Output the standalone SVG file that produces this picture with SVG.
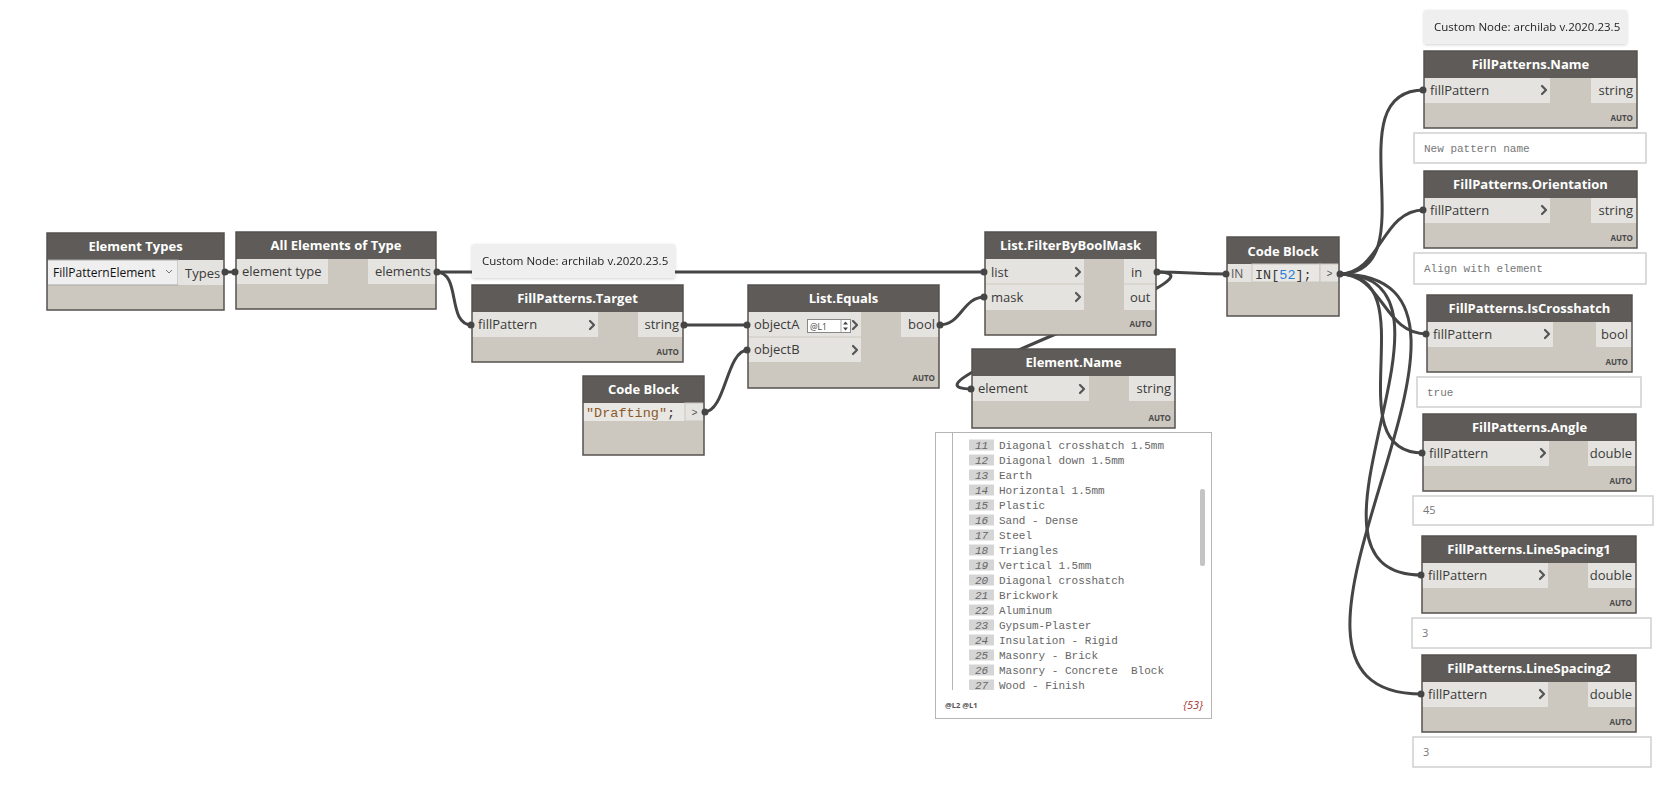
<svg xmlns="http://www.w3.org/2000/svg" width="1666" height="796" viewBox="0 0 1666 796">
<style>
.bg{fill:#ffffff}
.body{fill:#ccc7bf}
.hdr{fill:#5e5b58}
.outline{fill:none;stroke:#55524f;stroke-width:1.5}
.port{fill:#e5e3df}
.title{font-family:"Open Sans","Liberation Sans",sans-serif;font-weight:bold;font-size:13px;fill:#ffffff;text-anchor:middle}
.lbl{font-family:"Open Sans","Liberation Sans",sans-serif;font-size:13px;fill:#3a3a3a}
.lblr{font-family:"Open Sans","Liberation Sans",sans-serif;font-size:13px;fill:#3a3a3a;text-anchor:end}
.auto{font-family:"Open Sans","Liberation Sans",sans-serif;font-weight:bold;font-size:8px;fill:#4a4a4a;text-anchor:end}
.chev{fill:none;stroke:#555;stroke-width:2.2;stroke-linecap:round;stroke-linejoin:round}
.wire{fill:none;stroke:#454545;stroke-width:3}
.pin{fill:#454545}
.code{font-family:"Liberation Mono","DejaVu Sans Mono",monospace;font-size:13.5px;fill:#3a3a3a}
.codeln{fill:#e9e7e3}
.gt{font-family:"Liberation Mono","DejaVu Sans Mono",monospace;font-size:10px;fill:#555;text-anchor:middle}
.tip{fill:#efefef}
.tiptxt{font-family:"Open Sans","Liberation Sans",sans-serif;font-size:11.5px;fill:#222}
.vbox{fill:#ffffff;stroke:#cfcfcf;stroke-width:1.5}
.vmono{font-family:"Liberation Mono","DejaVu Sans Mono",monospace;font-size:11px;fill:#777}
.vsans{font-family:"Open Sans","Liberation Sans",sans-serif;font-size:11px;fill:#777}
.row{font-family:"Liberation Mono","DejaVu Sans Mono",monospace;font-size:11px;fill:#666;white-space:pre}
.idx{fill:#d5d5d5}
.idxt{font-family:"Liberation Mono","DejaVu Sans Mono",monospace;font-size:11px;font-style:italic;fill:#666;text-anchor:middle}
</style>
<defs>
<filter id="sh" x="-10%" y="-30%" width="120%" height="160%">
<feDropShadow dx="0" dy="1" stdDeviation="1.5" flood-color="#000" flood-opacity="0.18"/>
</filter>
<clipPath id="watchclip"><rect x="936" y="433" width="262" height="257"/></clipPath>
</defs>
<rect class="bg" x="0" y="0" width="1666" height="796"/>

<g id="connectors">
<path class="wire" d="M224,272 L236,272"/>
<path class="wire" d="M436,272 L985,272"/>
<path class="wire" d="M436,272 C462,272 446,325 472,325"/>
<path class="wire" d="M683,325 L748,325"/>
<path class="wire" d="M704,412 C726,412 726,350 748,350"/>
<path class="wire" d="M939,325 C962,325 962,297 985,297"/>
<path class="wire" d="M1156,272 C1190,272 1193,274 1227,274"/>
<path class="wire" d="M1156,272 C1248,272 880,389 972,389"/>
<path class="wire" d="M1339,274 C1431,274 1332,90 1424,90"/>
<path class="wire" d="M1339,274 C1381,274 1381,210 1424,210"/>
<path class="wire" d="M1339,274 C1383,274 1383,334 1427,334"/>
<path class="wire" d="M1339,274 C1429,274 1333,453 1423,453"/>
<path class="wire" d="M1339,274 C1489,274 1272,575 1422,575"/>
<path class="wire" d="M1339,274 C1549,274 1212,694 1422,694"/>
</g>

<g id="node-element-types">
<rect class="body" x="47" y="233" width="177" height="77"/>
<rect class="hdr" x="47" y="233" width="177" height="27"/>
<text class="title" x="135.5" y="251">Element Types</text>
<rect x="47.5" y="260" width="130.5" height="25" fill="#efefef" stroke="#a9a9a9"/>
<text x="53" y="277" font-family="Open Sans, Liberation Sans, sans-serif" font-size="12" fill="#111">FillPatternElement</text>
<path d="M166,270 L169,273 L172,270" fill="none" stroke="#777" stroke-width="1"/>
<rect class="port" x="178" y="260" width="46" height="25"/>
<text class="lbl" x="185" y="278">Types</text>
<rect class="outline" x="47" y="233" width="177" height="77"/>
<circle class="pin" cx="225" cy="272" r="3.5"/>
</g>

<g id="node-all-elements">
<rect class="body" x="236" y="232" width="200" height="77"/>
<rect class="hdr" x="236" y="232" width="200" height="27"/>
<text class="title" x="336" y="250">All Elements of Type</text>
<rect class="port" x="236" y="259" width="92" height="25"/>
<text class="lbl" x="242" y="276">element type</text>
<rect class="port" x="368" y="259" width="68" height="25"/>
<text class="lblr" x="431" y="276">elements</text>
<rect class="outline" x="236" y="232" width="200" height="77"/>
<circle class="pin" cx="235" cy="272" r="3.5"/>
<circle class="pin" cx="437" cy="272" r="3.5"/>
</g>

<g id="tooltip-1" filter="url(#sh)">
<rect class="tip" x="472" y="244" width="203" height="34" rx="2"/>
<text class="tiptxt" x="482" y="265">Custom Node: archilab v.2020.23.5</text>
</g>

<g id="node-fp-target">
<rect class="body" x="472" y="285" width="211" height="77"/>
<rect class="hdr" x="472" y="285" width="211" height="27"/>
<text class="title" x="577.5" y="303">FillPatterns.Target</text>
<rect class="port" x="472" y="312" width="126" height="25"/>
<text class="lbl" x="478" y="329">fillPattern</text>
<path class="chev" d="M590,321 L594,325 L590,329"/>
<rect class="port" x="638" y="312" width="45" height="25"/>
<text class="lblr" x="679" y="329">string</text>
<text class="auto" x="679" y="355">AUTO</text>
<rect class="outline" x="472" y="285" width="211" height="77"/>
<circle class="pin" cx="471" cy="325" r="3.5"/>
<circle class="pin" cx="684" cy="325" r="3.5"/>
</g>

<g id="node-list-equals">
<rect class="body" x="748" y="285" width="191" height="103"/>
<rect class="hdr" x="748" y="285" width="191" height="27"/>
<text class="title" x="843.5" y="303">List.Equals</text>
<rect class="port" x="748" y="312" width="113" height="24.5"/>
<rect class="port" x="748" y="337.5" width="113" height="24.5"/>
<text class="lbl" x="754" y="329">objectA</text>
<text class="lbl" x="754" y="354">objectB</text>
<rect x="807.5" y="319.5" width="43" height="13" fill="#fff" stroke="#888" stroke-width="1"/>
<text x="810" y="329.5" font-family="Open Sans, Liberation Sans, sans-serif" font-size="8.5" fill="#444">@L1</text>
<line x1="841" y1="320" x2="841" y2="332" stroke="#aaa" stroke-width="1"/>
<path d="M843,324.5 L845.5,321.5 L848,324.5 Z M843,327.5 L845.5,330.5 L848,327.5 Z" fill="#444"/>
<path class="chev" d="M853,321 L857,325 L853,329"/>
<path class="chev" d="M853,346 L857,350 L853,354"/>
<rect class="port" x="901" y="312" width="38" height="25"/>
<text class="lblr" x="935" y="329">bool</text>
<text class="auto" x="935" y="381">AUTO</text>
<rect class="outline" x="748" y="285" width="191" height="103"/>
<circle class="pin" cx="747" cy="325" r="3.5"/>
<circle class="pin" cx="747" cy="350" r="3.5"/>
<circle class="pin" cx="940" cy="325" r="3.5"/>
</g>

<g id="node-code-drafting">
<rect class="body" x="583" y="376" width="121" height="79"/>
<rect class="hdr" x="583" y="376" width="121" height="27"/>
<text class="title" x="643.5" y="394">Code Block</text>
<rect class="codeln" x="583" y="403" width="102" height="18"/>
<text class="code" x="586" y="417"><tspan fill="#8b5a2b">"Drafting"</tspan>;</text>
<rect class="port" x="685" y="403" width="19" height="18" stroke="#c9c6c0" stroke-width="1"/>
<text class="gt" x="694.5" y="416">&gt;</text>
<rect class="outline" x="583" y="376" width="121" height="79"/>
<circle class="pin" cx="705" cy="412" r="3.5"/>
</g>

<g id="node-filter-bool-mask">
<rect class="body" x="985" y="232" width="171" height="103"/>
<rect class="hdr" x="985" y="232" width="171" height="27"/>
<text class="title" x="1070.5" y="250">List.FilterByBoolMask</text>
<rect class="port" x="985" y="259" width="99" height="24.5"/>
<rect class="port" x="985" y="284.5" width="99" height="25.5"/>
<text class="lbl" x="991" y="277">list</text>
<text class="lbl" x="991" y="302">mask</text>
<path class="chev" d="M1076,268 L1080,272 L1076,276"/>
<path class="chev" d="M1076,293 L1080,297 L1076,301"/>
<rect class="port" x="1124" y="259" width="32" height="24.5"/>
<rect class="port" x="1124" y="284.5" width="32" height="25.5"/>
<text class="lbl" x="1131" y="277">in</text>
<text class="lbl" x="1130" y="302">out</text>
<text class="auto" x="1152" y="327">AUTO</text>
<rect class="outline" x="985" y="232" width="171" height="103"/>
<circle class="pin" cx="984" cy="272" r="3.5"/>
<circle class="pin" cx="984" cy="297" r="3.5"/>
<circle class="pin" cx="1157" cy="272" r="3.5"/>
</g>

<g id="node-element-name">
<rect class="body" x="972" y="349" width="203" height="79"/>
<rect class="hdr" x="972" y="349" width="203" height="27"/>
<text class="title" x="1073.5" y="367">Element.Name</text>
<rect class="port" x="972" y="376" width="117" height="25"/>
<text class="lbl" x="978" y="393">element</text>
<path class="chev" d="M1080,385 L1084,389 L1080,393"/>
<rect class="port" x="1129" y="376" width="46" height="25"/>
<text class="lblr" x="1171" y="393">string</text>
<text class="auto" x="1171" y="421">AUTO</text>
<rect class="outline" x="972" y="349" width="203" height="79"/>
<circle class="pin" cx="971" cy="389" r="3.5"/>
</g>

<g id="watch-element-name">
<rect x="935.5" y="432.5" width="276" height="286" fill="#fff" stroke="#b5b5b5" stroke-width="1"/>
<line x1="952.5" y1="433" x2="952.5" y2="690" stroke="#b5b5b5" stroke-width="1"/>
<g clip-path="url(#watchclip)">
<rect class="idx" x="969" y="439.5" width="25" height="11"/><text class="idxt" x="981.5" y="449">11</text><text class="row" x="999" y="449">Diagonal crosshatch 1.5mm</text>
<rect class="idx" x="969" y="454.5" width="25" height="11"/><text class="idxt" x="981.5" y="464">12</text><text class="row" x="999" y="464">Diagonal down 1.5mm</text>
<rect class="idx" x="969" y="469.5" width="25" height="11"/><text class="idxt" x="981.5" y="479">13</text><text class="row" x="999" y="479">Earth</text>
<rect class="idx" x="969" y="484.5" width="25" height="11"/><text class="idxt" x="981.5" y="494">14</text><text class="row" x="999" y="494">Horizontal 1.5mm</text>
<rect class="idx" x="969" y="499.5" width="25" height="11"/><text class="idxt" x="981.5" y="509">15</text><text class="row" x="999" y="509">Plastic</text>
<rect class="idx" x="969" y="514.5" width="25" height="11"/><text class="idxt" x="981.5" y="524">16</text><text class="row" x="999" y="524">Sand - Dense</text>
<rect class="idx" x="969" y="529.5" width="25" height="11"/><text class="idxt" x="981.5" y="539">17</text><text class="row" x="999" y="539">Steel</text>
<rect class="idx" x="969" y="544.5" width="25" height="11"/><text class="idxt" x="981.5" y="554">18</text><text class="row" x="999" y="554">Triangles</text>
<rect class="idx" x="969" y="559.5" width="25" height="11"/><text class="idxt" x="981.5" y="569">19</text><text class="row" x="999" y="569">Vertical 1.5mm</text>
<rect class="idx" x="969" y="574.5" width="25" height="11"/><text class="idxt" x="981.5" y="584">20</text><text class="row" x="999" y="584">Diagonal crosshatch</text>
<rect class="idx" x="969" y="589.5" width="25" height="11"/><text class="idxt" x="981.5" y="599">21</text><text class="row" x="999" y="599">Brickwork</text>
<rect class="idx" x="969" y="604.5" width="25" height="11"/><text class="idxt" x="981.5" y="614">22</text><text class="row" x="999" y="614">Aluminum</text>
<rect class="idx" x="969" y="619.5" width="25" height="11"/><text class="idxt" x="981.5" y="629">23</text><text class="row" x="999" y="629">Gypsum-Plaster</text>
<rect class="idx" x="969" y="634.5" width="25" height="11"/><text class="idxt" x="981.5" y="644">24</text><text class="row" x="999" y="644">Insulation - Rigid</text>
<rect class="idx" x="969" y="649.5" width="25" height="11"/><text class="idxt" x="981.5" y="659">25</text><text class="row" x="999" y="659">Masonry - Brick</text>
<rect class="idx" x="969" y="664.5" width="25" height="11"/><text class="idxt" x="981.5" y="674">26</text><text class="row" x="999" y="674" xml:space="preserve">Masonry - Concrete  Block</text>
<rect class="idx" x="969" y="679.5" width="25" height="11"/><text class="idxt" x="981.5" y="689">27</text><text class="row" x="999" y="689">Wood - Finish</text>
</g>
<rect x="1200" y="489" width="5" height="77" rx="2" fill="#c4c4c4"/>
<text x="945" y="708" font-family="Open Sans, Liberation Sans, sans-serif" font-size="7.5" font-weight="bold" fill="#555">@L2 @L1</text>
<text x="1203" y="709" font-family="Open Sans, Liberation Sans, sans-serif" font-size="11" font-style="italic" fill="#a3322b" text-anchor="end">{53}</text>
</g>

<g id="node-code-in52">
<rect class="body" x="1227" y="237" width="112" height="79"/>
<rect class="hdr" x="1227" y="237" width="112" height="27"/>
<text class="title" x="1283" y="256">Code Block</text>
<rect class="port" x="1227" y="264" width="25" height="18"/>
<text x="1231" y="278" font-family="Open Sans, Liberation Sans, sans-serif" font-size="12" fill="#555">IN</text>
<rect class="codeln" x="1252" y="264" width="68" height="18" stroke="#c9c6c0" stroke-width="1"/>
<text class="code" x="1255" y="279">IN[<tspan fill="#2a7fd4">52</tspan>];</text>
<rect class="port" x="1320" y="264" width="19" height="18" stroke="#c9c6c0" stroke-width="1"/>
<text class="gt" x="1329.5" y="277">&gt;</text>
<rect class="outline" x="1227" y="237" width="112" height="79"/>
<circle class="pin" cx="1226" cy="274" r="3.5"/>
<circle class="pin" cx="1340" cy="274" r="3.5"/>
</g>

<g id="tooltip-2" filter="url(#sh)">
<rect class="tip" x="1424" y="10" width="203" height="34" rx="2"/>
<text class="tiptxt" x="1434" y="31">Custom Node: archilab v.2020.23.5</text>
</g>

<g id="node-fp-name">
<rect class="body" x="1424" y="51" width="213" height="77"/>
<rect class="hdr" x="1424" y="51" width="213" height="27"/>
<text class="title" x="1530.5" y="69">FillPatterns.Name</text>
<rect class="port" x="1424" y="78" width="126" height="25"/>
<text class="lbl" x="1430" y="95">fillPattern</text>
<path class="chev" d="M1542,86 L1546,90 L1542,94"/>
<rect class="port" x="1591" y="78" width="46" height="25"/>
<text class="lblr" x="1633" y="95">string</text>
<text class="auto" x="1633" y="121">AUTO</text>
<rect class="outline" x="1424" y="51" width="213" height="77"/>
<circle class="pin" cx="1423" cy="90" r="3.5"/>
</g>
<g id="value-name">
<rect class="vbox" x="1414" y="133" width="232" height="30"/>
<text class="vmono" x="1424" y="152">New pattern name</text>
</g>

<g id="node-fp-orientation">
<rect class="body" x="1424" y="171" width="213" height="77"/>
<rect class="hdr" x="1424" y="171" width="213" height="27"/>
<text class="title" x="1530.5" y="189">FillPatterns.Orientation</text>
<rect class="port" x="1424" y="198" width="126" height="25"/>
<text class="lbl" x="1430" y="215">fillPattern</text>
<path class="chev" d="M1542,206 L1546,210 L1542,214"/>
<rect class="port" x="1591" y="198" width="46" height="25"/>
<text class="lblr" x="1633" y="215">string</text>
<text class="auto" x="1633" y="241">AUTO</text>
<rect class="outline" x="1424" y="171" width="213" height="77"/>
<circle class="pin" cx="1423" cy="210" r="3.5"/>
</g>
<g id="value-orientation">
<rect class="vbox" x="1414" y="253" width="232" height="31"/>
<text class="vmono" x="1424" y="272">Align with element</text>
</g>

<g id="node-fp-iscrosshatch">
<rect class="body" x="1427" y="295" width="205" height="77"/>
<rect class="hdr" x="1427" y="295" width="205" height="27"/>
<text class="title" x="1529.5" y="313">FillPatterns.IsCrosshatch</text>
<rect class="port" x="1427" y="322" width="126" height="25"/>
<text class="lbl" x="1433" y="339">fillPattern</text>
<path class="chev" d="M1545,330 L1549,334 L1545,338"/>
<rect class="port" x="1596" y="322" width="36" height="25"/>
<text class="lblr" x="1628" y="339">bool</text>
<text class="auto" x="1628" y="365">AUTO</text>
<rect class="outline" x="1427" y="295" width="205" height="77"/>
<circle class="pin" cx="1426" cy="334" r="3.5"/>
</g>
<g id="value-iscrosshatch">
<rect class="vbox" x="1417" y="377" width="224" height="30"/>
<text class="vmono" x="1427" y="396">true</text>
</g>

<g id="node-fp-angle">
<rect class="body" x="1423" y="414" width="213" height="77"/>
<rect class="hdr" x="1423" y="414" width="213" height="27"/>
<text class="title" x="1529.5" y="432">FillPatterns.Angle</text>
<rect class="port" x="1423" y="441" width="126" height="25"/>
<text class="lbl" x="1429" y="458">fillPattern</text>
<path class="chev" d="M1541,449 L1545,453 L1541,457"/>
<rect class="port" x="1588" y="441" width="48" height="25"/>
<text class="lblr" x="1632" y="458">double</text>
<text class="auto" x="1632" y="484">AUTO</text>
<rect class="outline" x="1423" y="414" width="213" height="77"/>
<circle class="pin" cx="1422" cy="453" r="3.5"/>
</g>
<g id="value-angle">
<rect class="vbox" x="1413" y="496" width="240" height="29"/>
<text class="vsans" x="1423" y="514">45</text>
</g>

<g id="node-fp-linespacing1">
<rect class="body" x="1422" y="536" width="214" height="77"/>
<rect class="hdr" x="1422" y="536" width="214" height="27"/>
<text class="title" x="1529" y="554">FillPatterns.LineSpacing1</text>
<rect class="port" x="1422" y="563" width="126" height="25"/>
<text class="lbl" x="1428" y="580">fillPattern</text>
<path class="chev" d="M1540,571 L1544,575 L1540,579"/>
<rect class="port" x="1588" y="563" width="48" height="25"/>
<text class="lblr" x="1632" y="580">double</text>
<text class="auto" x="1632" y="606">AUTO</text>
<rect class="outline" x="1422" y="536" width="214" height="77"/>
<circle class="pin" cx="1421" cy="575" r="3.5"/>
</g>
<g id="value-linespacing1">
<rect class="vbox" x="1412" y="618" width="239" height="30"/>
<text class="vsans" x="1422" y="637">3</text>
</g>

<g id="node-fp-linespacing2">
<rect class="body" x="1422" y="655" width="214" height="77"/>
<rect class="hdr" x="1422" y="655" width="214" height="27"/>
<text class="title" x="1529" y="673">FillPatterns.LineSpacing2</text>
<rect class="port" x="1422" y="682" width="126" height="25"/>
<text class="lbl" x="1428" y="699">fillPattern</text>
<path class="chev" d="M1540,690 L1544,694 L1540,698"/>
<rect class="port" x="1588" y="682" width="48" height="25"/>
<text class="lblr" x="1632" y="699">double</text>
<text class="auto" x="1632" y="725">AUTO</text>
<rect class="outline" x="1422" y="655" width="214" height="77"/>
<circle class="pin" cx="1421" cy="694" r="3.5"/>
</g>
<g id="value-linespacing2">
<rect class="vbox" x="1413" y="737" width="238" height="30"/>
<text class="vsans" x="1423" y="756">3</text>
</g>
</svg>
